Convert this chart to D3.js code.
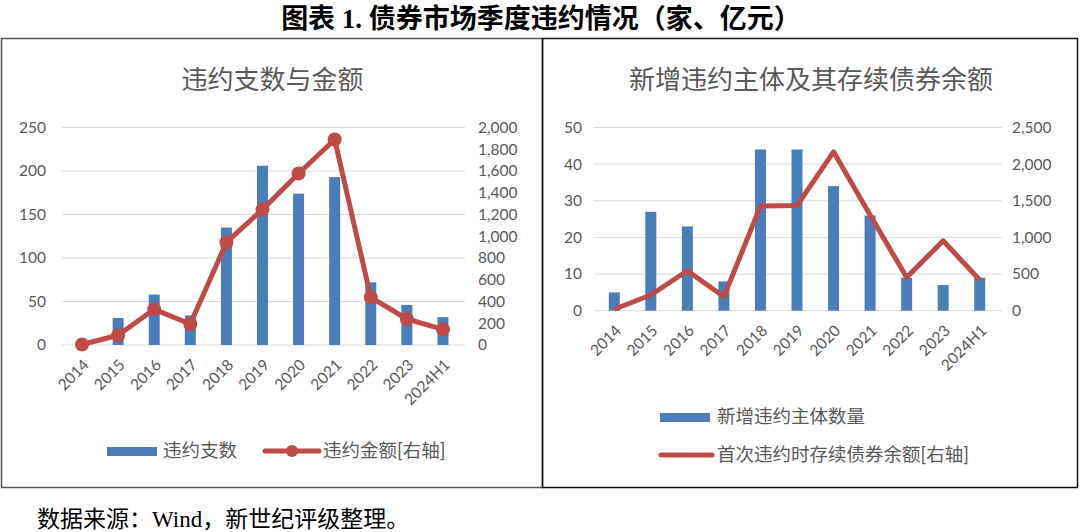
<!DOCTYPE html>
<html>
<head>
<meta charset="utf-8">
<script src="https://cdn.jsdelivr.net/npm/d3@7"></script>
<style>
  body { margin: 0; background: #fff; }
  svg { display: block; }
</style>
</head>
<body>
<div id="chart"></div>
<script>
const years = ["2014", "2015", "2016", "2017", "2018", "2019", "2020", "2021", "2022", "2023", "2024H1"];

// left panel: 违约支数 / 违约金额
const defaultCount = [0, 31, 58, 34, 135, 206, 174, 193, 72, 46, 32];
const defaultAmount = [5, 90, 328, 193, 943, 1246, 1577, 1890, 438, 239, 144];

// right panel: 新增违约主体 / 首次违约时存续债券余额
const newIssuers = [5, 27, 23, 8, 44, 44, 34, 26, 9, 7, 9];
const issuerBalance = [20, 214, 545, 191, 1427, 1435, 2168, 1305, 455, 954, 418];

const leftTicksL = [0, 50, 100, 150, 200, 250];
const leftTicksR = [0, 200, 400, 600, 800, 1000, 1200, 1400, 1600, 1800, 2000];
const rightTicksL = [0, 10, 20, 30, 40, 50];
const rightTicksR = [0, 500, 1000, 1500, 2000, 2500];

const blue = "#4a7ebb";
const red = "#be4b48";
const grey = "#595959";
const cnFont = "Lato, 'Noto Sans CJK SC', sans-serif";
const serif = "'Liberation Serif', 'Noto Sans CJK SC', serif";

const svg = d3.select("#chart").append("svg")
  .attr("width", 1080)
  .attr("height", 532);

// figure title
svg.append("text")
  .attr("x", 541).attr("y", 28)
  .attr("text-anchor", "middle")
  .style("font-family", serif)
  .style("font-weight", "bold")
  .style("font-size", "27px")
  .attr("fill", "#000")
  .text("图表 1.  债券市场季度违约情况（家、亿元）");

// panel frames
svg.append("rect")
  .attr("x", 1.5).attr("y", 38.5).attr("width", 541).attr("height", 449)
  .attr("fill", "none").attr("stroke", "#555").attr("stroke-width", 1.5);
svg.append("rect")
  .attr("x", 542.5).attr("y", 38.5).attr("width", 535).attr("height", 449)
  .attr("fill", "none").attr("stroke", "#111").attr("stroke-width", 1.5);

const fmt = d3.format(",");

const panel = (cfg) => {
  const g = svg.append("g");

  g.append("text")
    .attr("x", cfg.titleX).attr("y", 89)
    .attr("text-anchor", "middle")
    .style("font-family", cnFont)
    .style("font-size", "26px")
    .attr("fill", grey)
    .text(cfg.title);

  const x = d3.scaleBand().domain(years).range(cfg.xRange).padding(0);
  const yL = d3.scaleLinear().domain(cfg.domL).range([cfg.y0, cfg.y1]);
  const yR = d3.scaleLinear().domain(cfg.domR).range([cfg.y0, cfg.y1]);
  const bw = 11;

  // gridlines
  g.selectAll("line.grid").data(cfg.ticksL).enter().append("line")
    .attr("class", "grid")
    .attr("x1", cfg.xRange[0] - 2).attr("x2", cfg.xRange[1] + 4)
    .attr("y1", d => yL(d)).attr("y2", d => yL(d))
    .attr("stroke", "#d9d9d9").attr("stroke-width", 1);

  // left axis labels
  g.selectAll("text.yl").data(cfg.ticksL).enter().append("text")
    .attr("x", cfg.labelLX).attr("y", d => yL(d)).attr("dy", "0.35em")
    .attr("text-anchor", "end")
    .style("font-family", cnFont).style("font-size", "15.5px")
    .attr("fill", grey)
    .text(d => fmt(d));

  // right axis labels
  g.selectAll("text.yr").data(cfg.ticksR).enter().append("text")
    .attr("x", cfg.labelRX).attr("y", d => yR(d)).attr("dy", "0.35em")
    .attr("text-anchor", "start")
    .style("font-family", cnFont).style("font-size", "15.5px")
    .attr("fill", grey)
    .text(d => fmt(d));

  // x labels
  g.selectAll("text.xl").data(years).enter().append("text")
    .attr("transform", d => `translate(${x(d) + x.bandwidth() / 2 + 4},${cfg.y0 + 17}) rotate(-45)`)
    .attr("text-anchor", "end")
    .attr("dy", "0.35em")
    .style("font-family", cnFont).style("font-size", "15.5px")
    .attr("fill", grey)
    .text(d => d);

  // bars
  g.selectAll("rect.bar").data(cfg.bars).enter().append("rect")
    .attr("x", (d, i) => x(years[i]) + (x.bandwidth() - bw) / 2)
    .attr("y", d => yL(d))
    .attr("width", bw)
    .attr("height", d => yL(0) - yL(d))
    .attr("fill", blue);

  // line
  const line = d3.line()
    .x((d, i) => x(years[i]) + x.bandwidth() / 2)
    .y(d => yR(d));
  g.append("path")
    .datum(cfg.line)
    .attr("d", line)
    .attr("fill", "none")
    .attr("stroke", red)
    .attr("stroke-width", 5)
    .attr("stroke-linejoin", "round");

  if (cfg.markers) {
    g.selectAll("circle.pt").data(cfg.line).enter().append("circle")
      .attr("cx", (d, i) => x(years[i]) + x.bandwidth() / 2)
      .attr("cy", d => yR(d))
      .attr("r", 7)
      .attr("fill", red);
  }
  return g;
};

const left = panel({
  title: "违约支数与金额", titleX: 272.5,
  xRange: [64, 461], y0: 345, y1: 127.5,
  domL: [0, 250], domR: [0, 2000],
  ticksL: leftTicksL, ticksR: leftTicksR,
  labelLX: 46, labelRX: 478,
  bars: defaultCount, line: defaultAmount, markers: true
});

const right = panel({
  title: "新增违约主体及其存续债券余额", titleX: 811,
  xRange: [596, 998], y0: 310.7, y1: 127.5,
  domL: [0, 50], domR: [0, 2500],
  ticksL: rightTicksL, ticksR: rightTicksR,
  labelLX: 582, labelRX: 1012,
  bars: newIssuers, line: issuerBalance, markers: false
});

// legends
const legendText = (g, x, y, t) => g.append("text")
  .attr("x", x).attr("y", y).attr("dy", "0.35em")
  .style("font-family", cnFont).style("font-size", "18.5px")
  .attr("fill", grey)
  .text(t);

left.append("rect").attr("x", 107).attr("y", 447).attr("width", 50).attr("height", 9).attr("fill", blue);
legendText(left, 163, 451, "违约支数");
left.append("line").attr("x1", 265).attr("x2", 319).attr("y1", 451).attr("y2", 451)
  .attr("stroke", red).attr("stroke-width", 5).attr("stroke-linecap", "round");
left.append("circle").attr("cx", 292).attr("cy", 451).attr("r", 6).attr("fill", red);
legendText(left, 323, 451, "违约金额[右轴]");

right.append("rect").attr("x", 660).attr("y", 413).attr("width", 50).attr("height", 9).attr("fill", blue);
legendText(right, 717, 417, "新增违约主体数量");
right.append("line").attr("x1", 661).attr("x2", 712).attr("y1", 455).attr("y2", 455)
  .attr("stroke", red).attr("stroke-width", 5).attr("stroke-linecap", "round");
legendText(right, 717, 455, "首次违约时存续债券余额[右轴]");

// source note
svg.append("text")
  .attr("x", 37).attr("y", 527)
  .style("font-family", serif)
  .style("font-size", "23px")
  .attr("fill", "#000")
  .text("数据来源：Wind，新世纪评级整理。");
</script>
</body>
</html>
